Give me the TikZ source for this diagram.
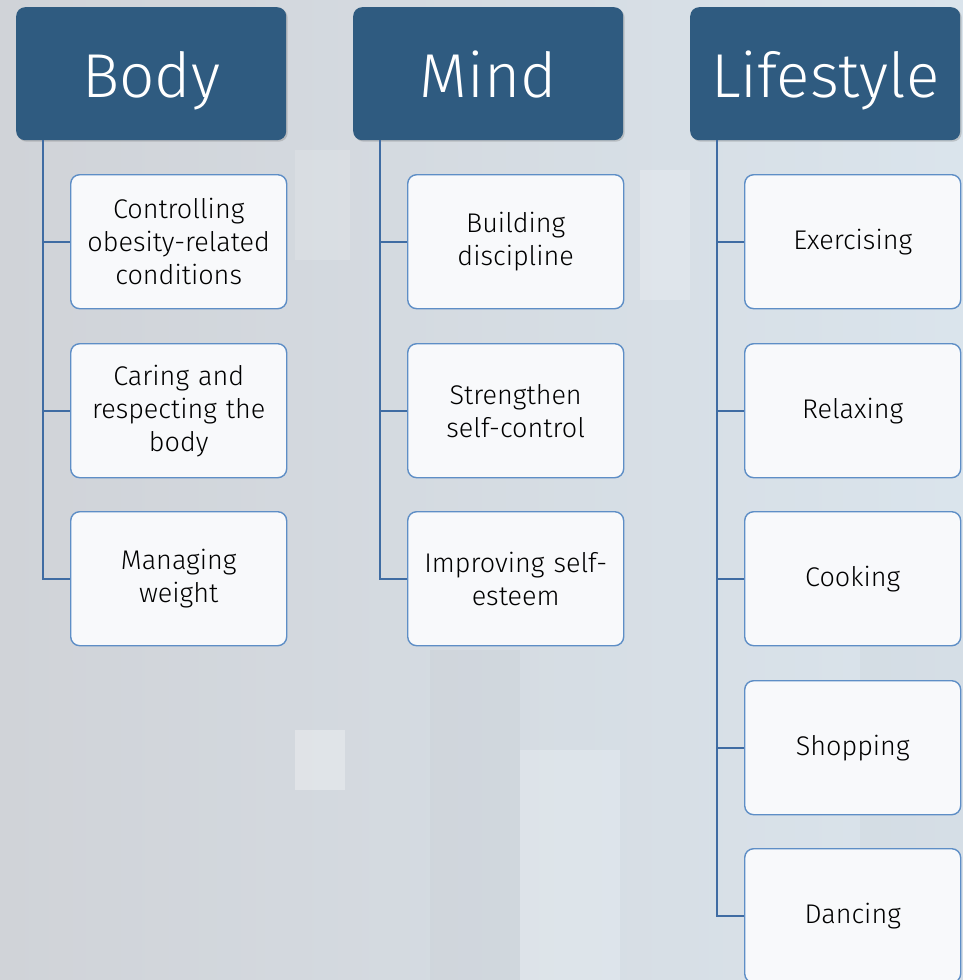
\documentclass[tikz,border=0pt]{standalone}
\usepackage{fontspec}
\setmainfont{Fira Sans}[UprightFont=* Light]
\usetikzlibrary{shadows}
\definecolor{hdr}{HTML}{2F5B80}
\definecolor{lnc}{HTML}{3F6CA3}
\definecolor{bxb}{HTML}{5E8EC6}
\definecolor{bxf}{HTML}{F8F9FB}
\definecolor{bgA}{HTML}{D0D3D8}
\definecolor{bgB}{HTML}{DAE4EC}
\tikzset{
  header/.style={draw=none, fill=hdr, rounded corners=9pt, minimum width=270pt, minimum height=133pt,
     text=white, font=\fontsize{62}{66}\selectfont, anchor=north west, inner sep=0pt,
     text height=47pt, text depth=0pt,
     drop shadow={opacity=0.35, shadow xshift=1.5pt, shadow yshift=-1.5pt}},
  item/.style={draw=bxb, line width=1.4pt, fill=bxf, rounded corners=9pt, minimum width=216pt, minimum height=134pt,
     text width=212pt, align=center, font=\fontsize{27}{33}\selectfont, anchor=north west, inner sep=0pt, text=black},
  conn/.style={draw=lnc, line width=1.8pt}
}
\begin{document}
\begin{tikzpicture}[x=1pt,y=-1pt]
\useasboundingbox (0,0) rectangle (963,980);
\shade[left color=bgA, right color=bgB] (0,0) rectangle (963,980);
\fill[white, opacity=0.15] (295,150) rectangle (350,260);
\fill[white, opacity=0.3] (295,730) rectangle (345,790);
\fill[bgB!60!white, opacity=0.4] (520,750) rectangle (620,980);
\fill[white, opacity=0.2] (640,170) rectangle (690,300);
\fill[gray, opacity=0.05] (430,650) rectangle (520,980);
\fill[gray, opacity=0.05] (860,560) rectangle (963,980);

\node[header] (body) at (16,7) {Body};
\node[header] (mind) at (353,7) {Mind};
\node[header] (life) at (690,7) {Lifestyle};

\node[item] (b1) at (70,174) {Controlling\\obesity-related\\conditions};
\node[item] (b2) at (70,343) {Caring and\\respecting the\\body};
\node[item] (b3) at (70,511) {Managing\\weight};

\node[item] (m1) at (407,174) {Building\\discipline};
\node[item] (m2) at (407,343) {Strengthen\\self-control};
\node[item] (m3) at (407,511) {Improving self-\\esteem};

\node[item] (l1) at (744,174) {Exercising};
\node[item] (l2) at (744,343) {Relaxing};
\node[item] (l3) at (744,511) {Cooking};
\node[item] (l4) at (744,680) {Shopping};
\node[item] (l5) at (744,848) {Dancing};

\foreach \h/\c in {body/b1,body/b2,body/b3,mind/m1,mind/m2,mind/m3,life/l1,life/l2,life/l3,life/l4,life/l5}{
  \draw[conn] ([xshift=27pt]\h.south west) |- (\c.west);
}
\end{tikzpicture}
\end{document}
